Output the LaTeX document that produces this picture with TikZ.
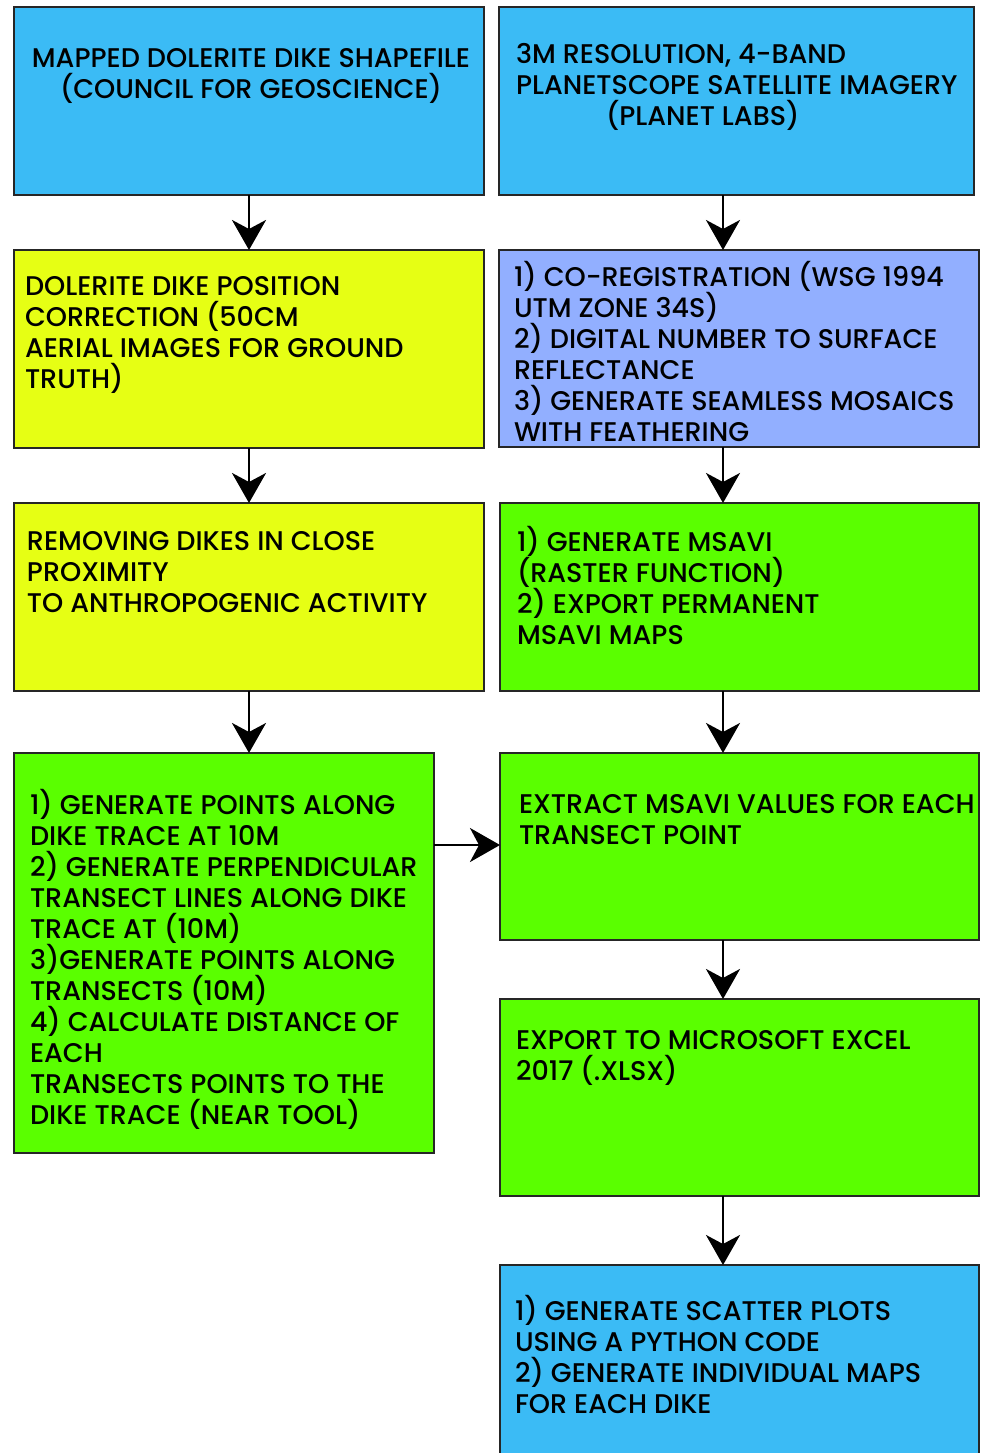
\documentclass[tikz,border=0pt]{standalone}
\usepackage{fontspec}
\setmainfont{Poppins}[UprightFont=* Medium]
\usetikzlibrary{arrows.meta,calc}
\definecolor{cblue}{HTML}{3BBBF5}
\definecolor{cyellow}{HTML}{E6FF14}
\definecolor{cgreen}{HTML}{5AFF00}
\definecolor{clav}{HTML}{92AFFF}
\newcommand{\fs}{\rule{0pt}{24pt}}
\begin{document}
\begin{tikzpicture}[x=1pt,y=-1pt,
  box/.style={draw=black!85,line width=1.5pt,inner sep=0pt,outer sep=0pt,anchor=north west},
  txt/.style={inner sep=0pt,outer sep=0pt,anchor=north west,align=left,font=\fontsize{27}{31}\selectfont},
  arr/.style={line width=2.6pt,-{Stealth[length=30pt,width=34pt,inset=9pt]}}]
\useasboundingbox (0,0) rectangle (981,1453);
% left column
\node[box,fill=cblue,minimum width=470pt,minimum height=188pt] (b1) at (14,7) {};
\node[box,fill=cyellow,minimum width=470pt,minimum height=198pt] (b2) at (14,250) {};
\node[box,fill=cyellow,minimum width=470pt,minimum height=188pt] (b3) at (14,503) {};
\node[box,fill=cgreen,minimum width=420pt,minimum height=400pt] (b4) at (14,753) {};
% right column
\node[box,fill=cblue,minimum width=475pt,minimum height=188pt] (r1) at (499,7) {};
\node[box,fill=clav,minimum width=480pt,minimum height=197pt] (r2) at (499,250) {};
\node[box,fill=cgreen,minimum width=479pt,minimum height=188pt] (r3) at (500,503) {};
\node[box,fill=cgreen,minimum width=479pt,minimum height=187pt] (r4) at (500,753) {};
\node[box,fill=cgreen,minimum width=479pt,minimum height=197pt] (r5) at (500,999) {};
\node[box,fill=cblue,minimum width=479pt,minimum height=205pt] (r6) at (500,1265) {};
% texts
\node[txt,anchor=north,align=center] (t1) at (251,44) {\fs MAPPED DOLERITE DIKE SHAPEFILE\\(COUNCIL FOR GEOSCIENCE)};
\node[txt] (t2) at (25,271) {\fs DOLERITE DIKE POSITION\\CORRECTION (50CM\\AERIAL IMAGES FOR GROUND\\TRUTH)};
\node[txt] (t3) at (27,526) {\fs REMOVING DIKES IN CLOSE\\PROXIMITY\\TO ANTHROPOGENIC ACTIVITY};
\node[txt] (t4) at (30,789) {\fs 1) GENERATE POINTS ALONG\\DIKE TRACE AT 10M\\2) GENERATE PERPENDICULAR\\TRANSECT LINES ALONG DIKE\\TRACE AT (10M)\\3)GENERATE POINTS ALONG\\TRANSECTS (10M)\\4) CALCULATE DISTANCE OF\\EACH\\TRANSECTS POINTS TO THE\\DIKE TRACE (NEAR TOOL)};
\node[txt] (s1) at (516,39) {\fs 3M RESOLUTION, 4-BAND\\PLANETSCOPE SATELLITE IMAGERY\\\hspace*{90pt}(PLANET LABS)};
\node[txt] (s2) at (514,261) {\fs 1) CO-REGISTRATION (WSG 1994\\UTM ZONE 34S)\\2) DIGITAL NUMBER TO SURFACE\\REFLECTANCE\\3) GENERATE SEAMLESS MOSAICS\\WITH FEATHERING};
\node[txt] (s3) at (517,526) {\fs 1) GENERATE MSAVI\\(RASTER FUNCTION)\\2) EXPORT PERMANENT\\MSAVI MAPS};
\node[txt] (s4) at (519,789) {\fs EXTRACT MSAVI VALUES FOR EACH\\TRANSECT POINT};
\node[txt] (s5) at (516,1025) {\fs EXPORT TO MICROSOFT EXCEL\\2017 (.XLSX)};
\node[txt] (s6) at (515,1295) {\fs 1) GENERATE SCATTER PLOTS\\USING A PYTHON CODE\\2) GENERATE INDIVIDUAL MAPS\\FOR EACH DIKE};
% arrows
\coordinate (ax) at (723,0);
\coordinate (ay) at (0,845);
\draw[arr] (b1) -- (b2);
\draw[arr] (b2) -- (b3);
\draw[arr] (b3.south) -- (b3.south |- b4.north);
\draw[arr] (r1.south -| ax) -- (r2.north -| ax);
\draw[arr] (r2.south -| ax) -- (r3.north -| ax);
\draw[arr] (r3.south -| ax) -- (r4.north -| ax);
\draw[arr] (r4.south -| ax) -- (r5.north -| ax);
\draw[arr] (r5.south -| ax) -- (r6.north -| ax);
\draw[arr] (b4.east |- ay) -- (r4.west |- ay);
\end{tikzpicture}
\end{document}
